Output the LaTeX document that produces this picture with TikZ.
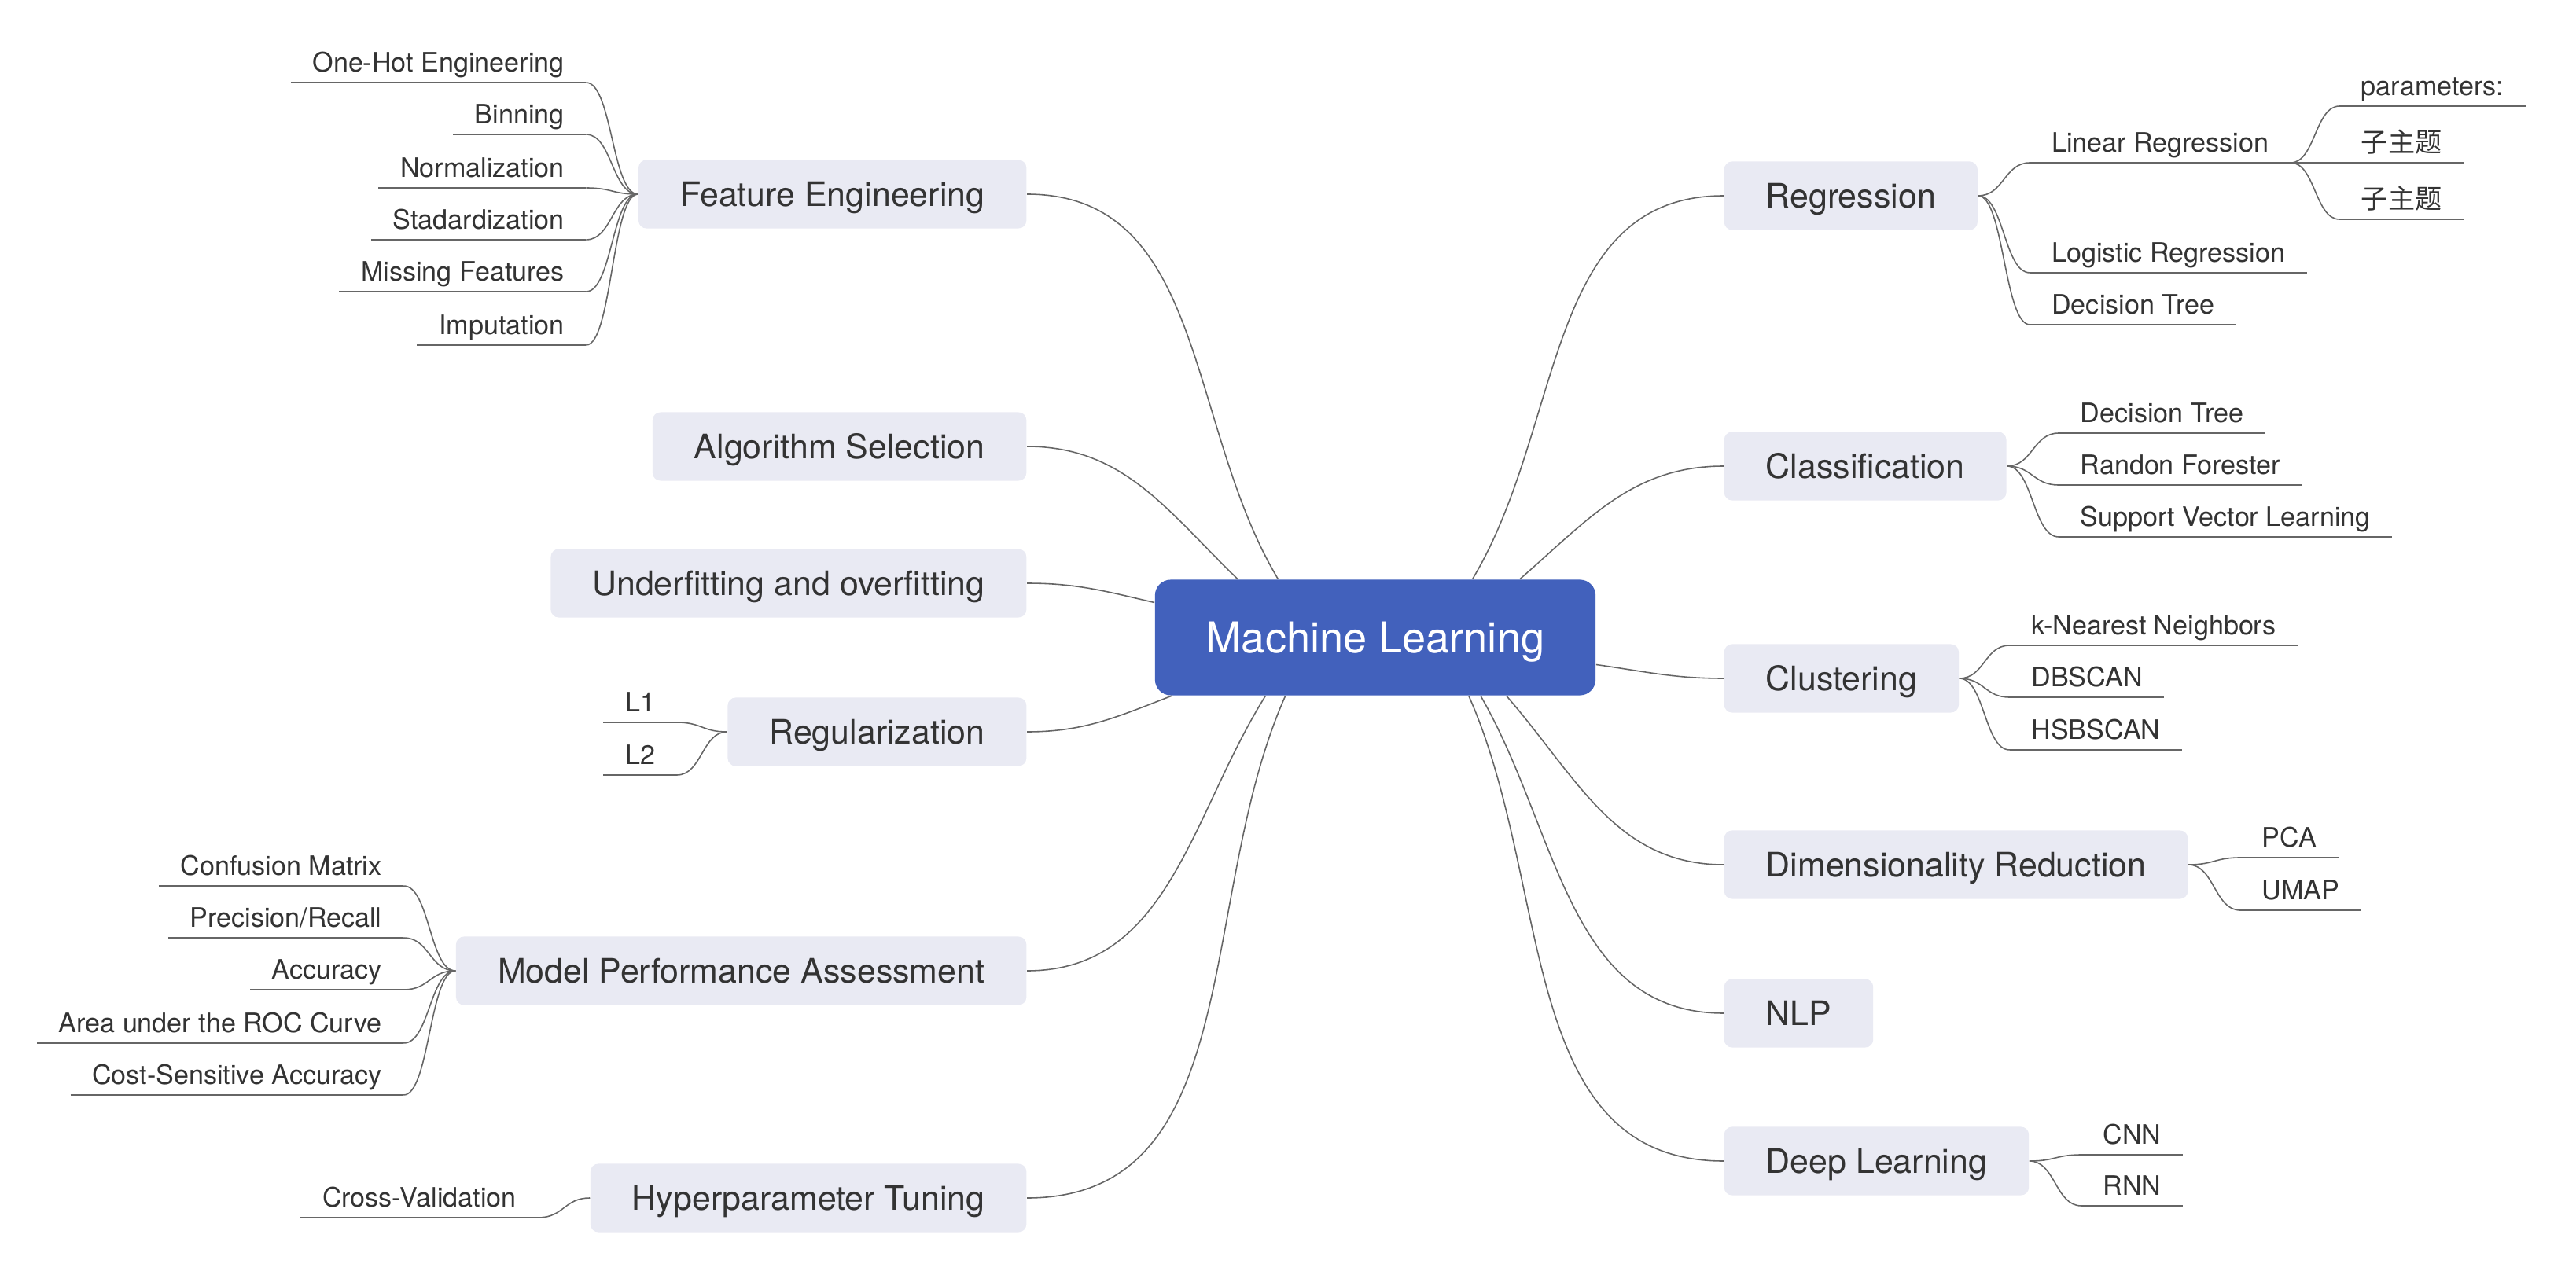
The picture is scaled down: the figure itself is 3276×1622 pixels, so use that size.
\documentclass[tikz,border=0pt]{standalone}
\usepackage{fontspec}
\setmainfont{TeX Gyre Heros}
\newfontfamily\cjk{Noto Sans CJK SC}
\definecolor{topicfill}{RGB}{233,234,243}
\definecolor{centralfill}{RGB}{66,97,188}
\definecolor{inkgray}{RGB}{51,51,51}
\definecolor{linegray}{RGB}{102,102,102}
\begin{document}
\begin{tikzpicture}[x=0.01cm,y=-0.01cm,
	central/.style={shape=rectangle,rounded corners=0.2cm,fill=centralfill,text=white,minimum width=5.6cm,minimum height=1.47cm,text height=14.3pt,text depth=3.2pt,font=\fontsize{15.4}{18}\selectfont},
	topic/.style={shape=rectangle,rounded corners=0.1cm,fill=topicfill,text=inkgray,inner xsep=0.53cm,minimum height=0.87cm,text height=11.25pt,text depth=2.55pt,font=\fontsize{12.2}{14}\selectfont},
	leaf/.style={inner xsep=0.27cm,inner ysep=0.13cm,text depth=0pt,text=inkgray,font=\fontsize{9.7}{11.6}\selectfont},
	branch/.style={draw=linegray,line width=0.45pt},
	under/.style={draw=linegray,line width=0.6pt}]
	\useasboundingbox (0,0) rectangle (3276,1622);

	\node (ml) at (1749,811)[central] {Machine Learning};

	\node (fe) at (1306,247)[topic,anchor=east] {Feature Engineering};
	\node (as) at (1306,568)[topic,anchor=east] {Algorithm Selection};
	\node (uo) at (1306,742)[topic,anchor=east] {Underfitting and overfitting};
	\node (regu) at (1306,931)[topic,anchor=east] {Regularization};
	\node (mpa) at (1306,1235)[topic,anchor=east] {Model Performance Assessment};
	\node (ht) at (1306,1524)[topic,anchor=east] {Hyperparameter Tuning};

	\node (reg) at (2192,249)[topic,anchor=west] {Regression};
	\node (cls) at (2192,593)[topic,anchor=west] {Classification};
	\node (clu) at (2192,863)[topic,anchor=west] {Clustering};
	\node (dim) at (2192,1100)[topic,anchor=west] {Dimensionality Reduction};
	\node (nlp) at (2192,1289)[topic,anchor=west] {NLP};
	\node (dl) at (2192,1477)[topic,anchor=west] {Deep Learning};

	\draw[branch] (ml.149) to[out=121,in=0] (fe.east);
	\draw[branch] (ml.157) to[out=136,in=0] (as.east);
	\draw[branch] (ml.171) to[out=167,in=0] (uo.east);
	\draw[branch] (ml.196) to[out=201,in=0] (regu.east);
	\draw[branch] (ml.208) to[out=238,in=0] (mpa.east);
	\draw[branch] (ml.213) to[out=246,in=0] (ht.east);
	\draw[branch] (ml.31) to[out=59,in=180] (reg.west);
	\draw[branch] (ml.22) to[out=41,in=180] (cls.west);
	\draw[branch] (ml.353) to[out=-8,in=180] (clu.west);
	\draw[branch] (ml.336) to[out=-49,in=180] (dim.west);
	\draw[branch] (ml.331) to[out=-60,in=180] (nlp.west);
	\draw[branch] (ml.328) to[out=-66,in=180] (dl.west);

	\coordinate (fe-end) at ([xshift=-0.66cm]fe.west);
	\foreach \y/\t [count=\i] in {105/One-Hot Engineering,171/Binning,239/Normalization,305/Stadardization,371/Missing Features,439/Imputation}{
		\node (fe\i) at (fe-end |- 0,\y)[leaf,anchor=south east] {\t};
		\draw[under] (fe\i.south west) -- (fe\i.south east);
		\draw[branch] (fe.west) .. controls +(-33,0) and +(33,0) .. (fe\i.south east);
	}

	\coordinate (regu-end) at ([xshift=-0.64cm]regu.west);
	\foreach \y/\t [count=\i] in {919/L1,986/L2}{
		\node (regu\i) at (regu-end |- 0,\y)[leaf,anchor=south east] {\t};
		\draw[under] (regu\i.south west) -- (regu\i.south east);
		\draw[branch] (regu.west) .. controls +(-32,0) and +(32,0) .. (regu\i.south east);
	}

	\coordinate (mpa-end) at ([xshift=-0.66cm]mpa.west);
	\foreach \y/\t [count=\i] in {1127/Confusion Matrix,1193/{Precision/Recall},1259/Accuracy,1327/Area under the ROC Curve,1393/Cost-Sensitive Accuracy}{
		\node (mpa\i) at (mpa-end |- 0,\y)[leaf,anchor=south east] {\t};
		\draw[under] (mpa\i.south west) -- (mpa\i.south east);
		\draw[branch] (mpa.west) .. controls +(-33,0) and +(33,0) .. (mpa\i.south east);
	}

	\coordinate (ht-end) at ([xshift=-0.66cm]ht.west);
	\node (ht1) at (ht-end |- 0,1549)[leaf,anchor=south east] {Cross-Validation};
	\draw[under] (ht1.south west) -- (ht1.south east);
	\draw[branch] (ht.west) .. controls +(-33,0) and +(33,0) .. (ht1.south east);

	\coordinate (reg-end) at ([xshift=0.66cm]reg.east);
	\foreach \y/\t [count=\i] in {207/Linear Regression,347/Logistic Regression,413/Decision Tree}{
		\node (reg\i) at (reg-end |- 0,\y)[leaf,anchor=south west] {\t};
		\draw[under] (reg\i.south west) -- (reg\i.south east);
		\draw[branch] (reg.east) .. controls +(33,0) and +(-33,0) .. (reg\i.south west);
	}

	\coordinate (lin-end) at ([xshift=0.62cm]reg1.south east);
	\foreach \y/\t [count=\i] in {135/parameters:,207/{\cjk 子主题},279/{\cjk 子主题}}{
		\node (lin\i) at (lin-end |- 0,\y)[leaf,anchor=south west] {\t};
		\draw[under] (lin\i.south west) -- (lin\i.south east);
		\draw[branch] (reg1.south east) .. controls +(31,0) and +(-31,0) .. (lin\i.south west);
	}

	\coordinate (cls-end) at ([xshift=0.66cm]cls.east);
	\foreach \y/\t [count=\i] in {551/Decision Tree,617/Randon Forester,683/Support Vector Learning}{
		\node (cls\i) at (cls-end |- 0,\y)[leaf,anchor=south west] {\t};
		\draw[under] (cls\i.south west) -- (cls\i.south east);
		\draw[branch] (cls.east) .. controls +(33,0) and +(-33,0) .. (cls\i.south west);
	}

	\coordinate (clu-end) at ([xshift=0.64cm]clu.east);
	\foreach \y/\t [count=\i] in {821/k-Nearest Neighbors,887/DBSCAN,954/HSBSCAN}{
		\node (clu\i) at (clu-end |- 0,\y)[leaf,anchor=south west] {\t};
		\draw[under] (clu\i.south west) -- (clu\i.south east);
		\draw[branch] (clu.east) .. controls +(32,0) and +(-32,0) .. (clu\i.south west);
	}

	\coordinate (dim-end) at ([xshift=0.66cm]dim.east);
	\foreach \y/\t [count=\i] in {1091/PCA,1158/UMAP}{
		\node (dim\i) at (dim-end |- 0,\y)[leaf,anchor=south west] {\t};
		\draw[under] (dim\i.south west) -- (dim\i.south east);
		\draw[branch] (dim.east) .. controls +(33,0) and +(-33,0) .. (dim\i.south west);
	}

	\coordinate (dl-end) at ([xshift=0.66cm]dl.east);
	\foreach \y/\t [count=\i] in {1469/CNN,1534/RNN}{
		\node (dl\i) at (dl-end |- 0,\y)[leaf,anchor=south west] {\t};
		\draw[under] (dl\i.south west) -- (dl\i.south east);
		\draw[branch] (dl.east) .. controls +(33,0) and +(-33,0) .. (dl\i.south west);
	}
\end{tikzpicture}
\end{document}
